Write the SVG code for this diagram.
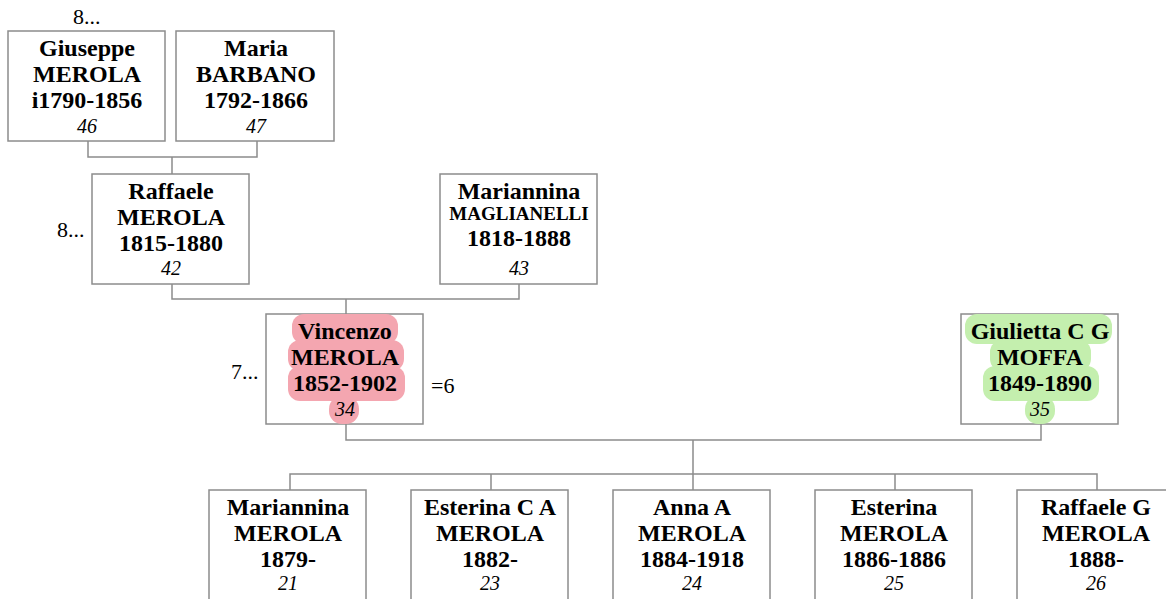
<svg xmlns="http://www.w3.org/2000/svg" width="1166" height="599" viewBox="0 0 1166 599">
<style>
.box{fill:#fff;stroke:#8c8c8c;stroke-width:1.5}
.n{font-family:"Liberation Serif","Times New Roman",serif;font-weight:bold;font-size:24px;text-anchor:middle;fill:#000}
.s{font-family:"Liberation Serif","Times New Roman",serif;font-weight:bold;font-size:19px;text-anchor:middle;fill:#000}
.id{font-family:"Liberation Serif","Times New Roman",serif;font-style:italic;font-size:20px;text-anchor:middle;fill:#000}
.lbl{font-family:"Liberation Serif","Times New Roman",serif;font-size:22px;fill:#000}
.con{fill:none;stroke:#8c8c8c;stroke-width:1.5}
.pink{fill:#f4a6b0}
.green{fill:#c4efae}
</style>
<g id="connectors">
<path class="con" d="M88,141V157H257V141M172,157V174"/>
<path class="con" d="M172,284V299H519V284M346,299V314"/>
<path class="con" d="M346,424V440H1041V424M693,440V474"/>
<path class="con" d="M290,490V474H1097V490M491,474V490M693,474V490M895,474V490"/>
</g>
<g id="giuseppe">
<rect class="box" x="8" y="31" width="157" height="110"/>
<text class="n" x="87" y="56">Giuseppe</text>
<text class="n" x="87" y="82">MEROLA</text>
<text class="n" x="87" y="108">i1790-1856</text>
<text class="id" x="87" y="133">46</text>
</g>
<text class="lbl" x="73" y="24">8...</text>
<g id="maria">
<rect class="box" x="176" y="31" width="158" height="110"/>
<text class="n" x="256" y="56">Maria</text>
<text class="n" x="256" y="82">BARBANO</text>
<text class="n" x="256" y="108">1792-1866</text>
<text class="id" x="256" y="133">47</text>
</g>
<g id="raffaele">
<rect class="box" x="92" y="174" width="157" height="110"/>
<text class="n" x="171" y="199">Raffaele</text>
<text class="n" x="171" y="225">MEROLA</text>
<text class="n" x="171" y="251">1815-1880</text>
<text class="id" x="171" y="275">42</text>
</g>
<text class="lbl" x="57" y="237">8...</text>
<g id="mariannina-maglianelli">
<rect class="box" x="440" y="174" width="157" height="110"/>
<text class="n" x="519" y="199">Mariannina</text>
<text class="s" x="519" y="220">MAGLIANELLI</text>
<text class="n" x="519" y="246">1818-1888</text>
<text class="id" x="519" y="275">43</text>
</g>
<g id="vincenzo">
<rect class="box" x="266" y="314" width="157" height="110"/>
<rect class="pink" x="292" y="314" width="106" height="30" rx="12"/>
<rect class="pink" x="288" y="340" width="116" height="31" rx="12"/>
<rect class="pink" x="288" y="366" width="117" height="35" rx="12"/>
<rect class="pink" x="329" y="396" width="30" height="28" rx="13"/>
<text class="n" x="345" y="339">Vincenzo</text>
<text class="n" x="345" y="365">MEROLA</text>
<text class="n" x="345" y="391">1852-1902</text>
<text class="id" x="345" y="416">34</text>
</g>
<text class="lbl" x="231" y="379">7...</text>
<text class="lbl" x="431" y="393">=6</text>
<g id="giulietta">
<rect class="box" x="961" y="314" width="157" height="110"/>
<rect class="green" x="965" y="314" width="147" height="30" rx="12"/>
<rect class="green" x="990" y="340" width="101" height="31" rx="12"/>
<rect class="green" x="983" y="366" width="116" height="35" rx="12"/>
<rect class="green" x="1025" y="396" width="30" height="28" rx="13"/>
<text class="n" x="1040" y="339">Giulietta C G</text>
<text class="n" x="1040" y="365">MOFFA</text>
<text class="n" x="1040" y="391">1849-1890</text>
<text class="id" x="1040" y="416">35</text>
</g>
<g id="child-21">
<rect class="box" x="209" y="490" width="157" height="115"/>
<text class="n" x="288" y="515">Mariannina</text>
<text class="n" x="288" y="541">MEROLA</text>
<text class="n" x="288" y="567">1879-</text>
<text class="id" x="288" y="590">21</text>
</g>
<g id="child-23">
<rect class="box" x="411" y="490" width="157" height="115"/>
<text class="n" x="490" y="515">Esterina C A</text>
<text class="n" x="490" y="541">MEROLA</text>
<text class="n" x="490" y="567">1882-</text>
<text class="id" x="490" y="590">23</text>
</g>
<g id="child-24">
<rect class="box" x="613" y="490" width="157" height="115"/>
<text class="n" x="692" y="515">Anna A</text>
<text class="n" x="692" y="541">MEROLA</text>
<text class="n" x="692" y="567">1884-1918</text>
<text class="id" x="692" y="590">24</text>
</g>
<g id="child-25">
<rect class="box" x="815" y="490" width="157" height="115"/>
<text class="n" x="894" y="515">Esterina</text>
<text class="n" x="894" y="541">MEROLA</text>
<text class="n" x="894" y="567">1886-1886</text>
<text class="id" x="894" y="590">25</text>
</g>
<g id="child-26">
<rect class="box" x="1017" y="490" width="157" height="115"/>
<text class="n" x="1096" y="515">Raffaele G</text>
<text class="n" x="1096" y="541">MEROLA</text>
<text class="n" x="1096" y="567">1888-</text>
<text class="id" x="1096" y="590">26</text>
</g>
</svg>
